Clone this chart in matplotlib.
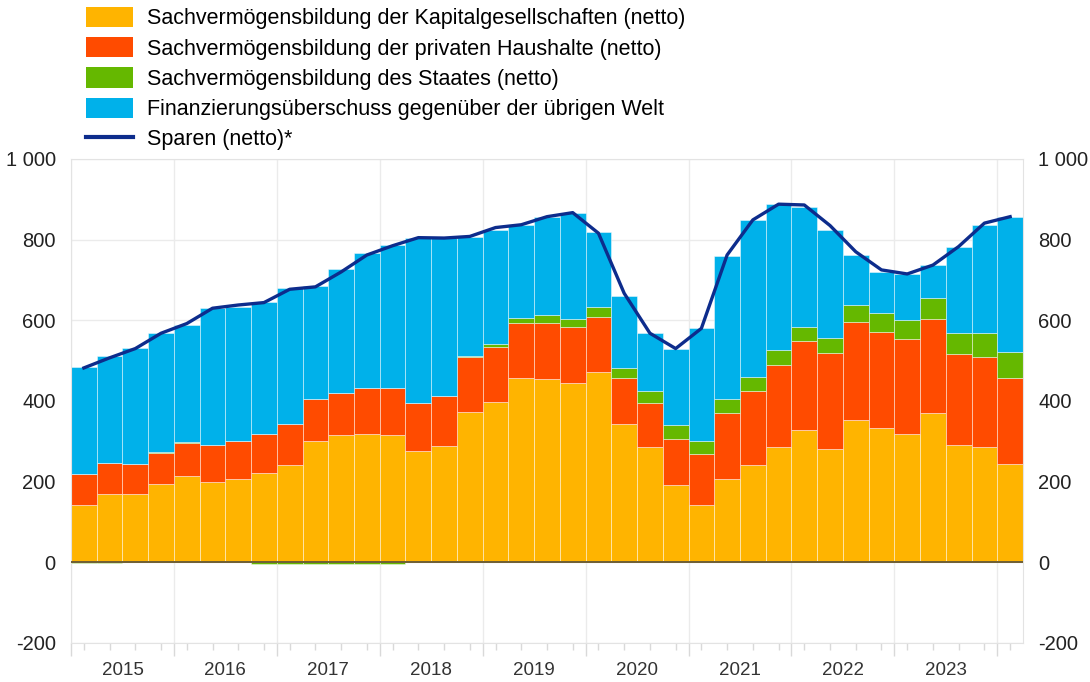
import matplotlib.pyplot as plt
import matplotlib.ticker as mticker
from matplotlib.patches import Patch
from matplotlib.lines import Line2D
import numpy as np

# quarterly data, 2015Q1 - 2024Q1 (EUR bn)
years = [2015, 2016, 2017, 2018, 2019, 2020, 2021, 2022, 2023]
periods = [f"{y}Q{q}" for y in years + [2024] for q in range(1, 5)][:37]

kapitalges = [141, 170, 170, 193, 214, 199, 206, 222, 241, 301, 315, 318, 315, 275, 288, 373,
              398, 456, 455, 445, 472, 342, 285, 191, 141, 207, 241, 285, 328, 280, 352, 332,
              317, 371, 292, 285, 245]
haushalte = [77, 77, 75, 78, 82, 91, 94, 97, 101, 104, 106, 113, 116, 120, 125, 137,
             137, 137, 139, 138, 137, 114, 111, 114, 127, 164, 185, 204, 221, 238, 245, 238,
             237, 232, 224, 225, 213]
staat = [-2, -2, 0, 3, 3, 1, 0, -3, -4, -5, -4, -4, -3, 0, 0, 2,
         6, 14, 18, 20, 23, 25, 28, 35, 33, 33, 34, 37, 35, 37, 41, 49,
         48, 52, 53, 58, 64]
ueberschuss = [266, 264, 287, 295, 289, 339, 334, 327, 339, 281, 306, 335, 356, 410, 391, 294,
               283, 230, 245, 263, 186, 179, 144, 190, 279, 356, 389, 362, 298, 269, 124, 102,
               112, 82, 212, 269, 333]
sparen = [482, 507, 530, 568, 592, 630, 638, 644, 677, 683, 720, 762, 785, 805, 804, 808,
          830, 837, 857, 867, 816, 667, 568, 530, 580, 762, 849, 888, 886, 835, 770, 725,
          715, 737, 783, 841, 857]

labels = ['Sachvermögensbildung der Kapitalgesellschaften (netto)',
          'Sachvermögensbildung der privaten Haushalte (netto)',
          'Sachvermögensbildung des Staates (netto)',
          'Finanzierungsüberschuss gegenüber der übrigen Welt',
          'Sparen (netto)*']
colors = ['#FFB400', '#FF4B00', '#65B800', '#00B1EA']
line_color = '#0D2C8C'

plt.rcParams['font.family'] = ['Liberation Sans', 'DejaVu Sans']

fig = plt.figure(figsize=(10.9, 6.82), dpi=100)
ax = fig.add_axes([71 / 1090, 1 - 643 / 682, 952 / 1090, 484 / 682])

x = np.arange(len(periods))
k = np.array(kapitalges)
h = np.array(haushalte)
s = np.array(staat)
u = np.array(ueberschuss)

edge = dict(edgecolor=(1, 1, 1, 0.45), linewidth=0.7, width=1.0, zorder=2)
ax.bar(x, k, color=colors[0], **edge)
ax.bar(x, h, bottom=k, color=colors[1], **edge)
s_pos = np.clip(s, 0, None)
s_neg = np.clip(s, None, 0)
ax.bar(x, s_pos, bottom=k + h, color=colors[2], **edge)
ax.bar(x, s_neg, color=colors[2], **edge)
ax.bar(x, u, bottom=k + h + s_pos, color=colors[3], **edge)

ax.plot(x, sparen, color=line_color, linewidth=2.4, zorder=4, solid_joinstyle='round')
ax.axhline(0, color='#6e5e34', linewidth=1.4, zorder=3)

ax.set_xlim(-0.5, len(x) - 0.5)
ax.set_ylim(-200, 1000)
ax.set_yticks(range(-200, 1001, 200))
ax.yaxis.set_major_formatter(mticker.FuncFormatter(lambda v, p: f"{v:,.0f}".replace(',', ' ')))

# year boundaries as major ticks, quarters as minor ticks
ax.set_xticks(np.arange(-0.5, len(x), 4))
ax.set_xticks(x, minor=True)
ax.set_xticklabels([])
ax.tick_params(axis='x', which='major', length=9, color='#d9d9d9', width=1)
ax.tick_params(axis='x', which='minor', length=5, color='#d9d9d9', width=1)
for i, y in enumerate(years):
    ax.text(4 * i + 1.5, -0.04, str(y), transform=ax.get_xaxis_transform(),
            ha='center', va='top', fontsize=13.5, color='#333333')

ax.tick_params(axis='y', left=False, right=False, labelleft=True, labelright=True,
               labelsize=14.5, labelcolor='#222222', pad=7.5)

ax.grid(True, axis='both', which='major', color='#ebebeb', linewidth=1, zorder=0)
ax.set_axisbelow(True)
for sp in ax.spines.values():
    sp.set_color('#e3e3e3')

handles = [Patch(facecolor=c) for c in colors] + [Line2D([0], [0], color=line_color, linewidth=3)]
fig.legend(handles, labels, loc='upper left', bbox_to_anchor=(86 / 1090, 1 - 7 / 682),
           frameon=False, fontsize=15.5, handlelength=2.2, handleheight=1.07,
           handletextpad=0.65, labelspacing=0.36, borderpad=0, borderaxespad=0)

plt.savefig('out.png', dpi=100)
